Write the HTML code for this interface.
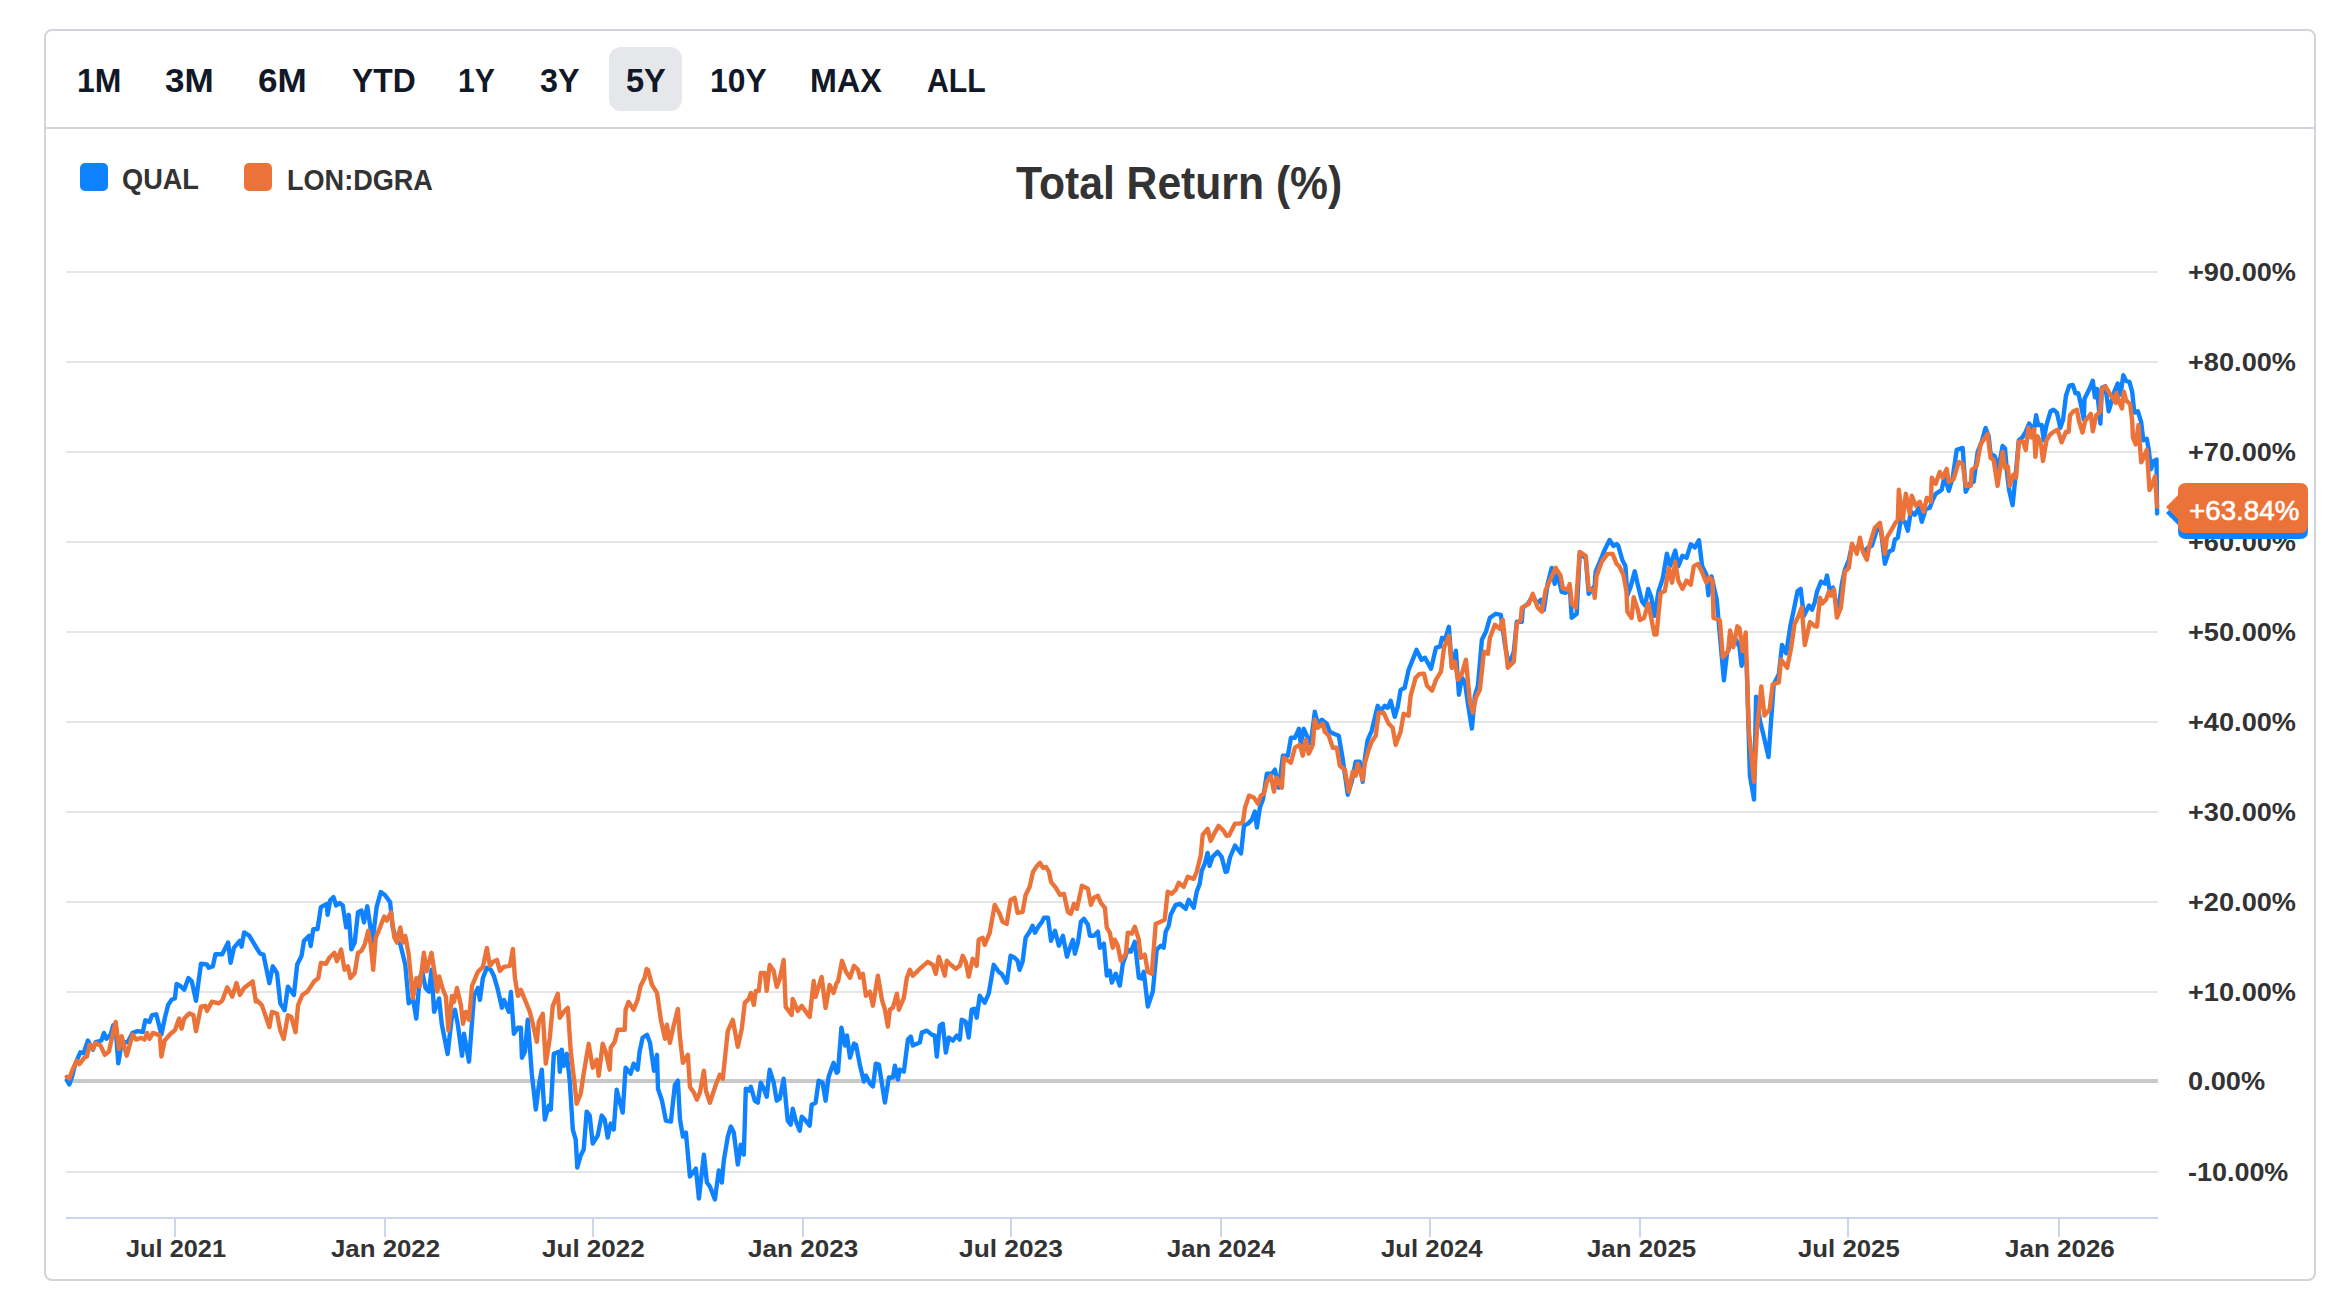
<!DOCTYPE html>
<html><head><meta charset="utf-8">
<style>
html,body{margin:0;padding:0;background:#fff;}
body{width:2350px;height:1302px;position:relative;overflow:hidden;font-family:"Liberation Sans",sans-serif;}
.box{position:absolute;left:44px;top:29px;width:2268px;height:1248px;border:2px solid #d1d5db;border-radius:8px;}
.sep{position:absolute;left:46px;top:127px;width:2268px;height:2px;background:#d1d5db;}
.t{position:absolute;white-space:nowrap;transform-origin:0 0;line-height:1;}
.btn{font-weight:bold;color:#111827;}
.sel{position:absolute;left:609px;top:47px;width:73px;height:64px;background:#e5e7eb;border-radius:12px;}
.leg{font-weight:bold;color:#333;}
.sq{position:absolute;top:163px;width:28px;height:28px;border-radius:5px;}
.title{font-weight:bold;color:#333;}
.yl{font-weight:bold;color:#333;}
.xl{font-weight:bold;color:#333;}
.cl{position:absolute;left:2178px;width:130px;height:50px;border-radius:8px;}
.ct{color:#fff;-webkit-text-stroke:0.6px #fff;}
svg{position:absolute;left:0;top:0;}
</style></head><body>
<div class="box"></div>
<div class="sep"></div>
<div class="sel"></div>
<div class="t btn" style="left:77.00px;top:62.96px;font-size:33.99px;transform:scale(0.9391,1)">1M</div>
<div class="t btn" style="left:165.20px;top:62.96px;font-size:33.99px;transform:scale(1.0324,1)">3M</div>
<div class="t btn" style="left:257.80px;top:62.96px;font-size:33.99px;transform:scale(1.0324,1)">6M</div>
<div class="t btn" style="left:351.50px;top:62.96px;font-size:33.99px;transform:scale(0.9368,1)">YTD</div>
<div class="t btn" style="left:457.90px;top:62.96px;font-size:33.99px;transform:scale(0.8878,1)">1Y</div>
<div class="t btn" style="left:540.20px;top:62.96px;font-size:33.99px;transform:scale(0.9506,1)">3Y</div>
<div class="t btn" style="left:625.50px;top:62.96px;font-size:33.99px;transform:scale(0.9583,1)">5Y</div>
<div class="t btn" style="left:709.50px;top:62.72px;font-size:33.99px;transform:scale(0.9378,1)">10Y</div>
<div class="t btn" style="left:810.30px;top:62.72px;font-size:33.99px;transform:scale(0.9496,1)">MAX</div>
<div class="t btn" style="left:926.60px;top:62.72px;font-size:33.99px;transform:scale(0.8892,1)">ALL</div>
<div class="sq" style="left:80px;background:#0f82ff"></div>
<div class="t leg" style="left:122.20px;top:163.86px;font-size:29.50px;transform:scale(0.9208,1)">QUAL</div>
<div class="t leg" style="left:286.50px;top:163.62px;font-size:30.40px;transform:scale(0.8912,1)">LON:DGRA</div>
<div class="sq" style="left:244px;background:#eb7339"></div>

<div class="t title" style="left:1016.40px;top:158.98px;font-size:47.03px;transform:scale(0.9073,1)">Total Return (%)</div>
<svg width="2350" height="1302" viewBox="0 0 2350 1302">
<g stroke="#e6e6e6" stroke-width="2">
<line x1="66" y1="272" x2="2158" y2="272"/>
<line x1="66" y1="362" x2="2158" y2="362"/>
<line x1="66" y1="452" x2="2158" y2="452"/>
<line x1="66" y1="542" x2="2158" y2="542"/>
<line x1="66" y1="632" x2="2158" y2="632"/>
<line x1="66" y1="722" x2="2158" y2="722"/>
<line x1="66" y1="812" x2="2158" y2="812"/>
<line x1="66" y1="902" x2="2158" y2="902"/>
<line x1="66" y1="992" x2="2158" y2="992"/>
<line x1="66" y1="1172" x2="2158" y2="1172"/>
</g>
<line x1="66" y1="1081" x2="2158" y2="1081" stroke="#c8c8c8" stroke-width="4"/>
<g stroke="#ccd6eb" stroke-width="2">
<line x1="66" y1="1218" x2="2158" y2="1218"/>
<line x1="175" y1="1218" x2="175" y2="1237"/>
<line x1="385" y1="1218" x2="385" y2="1237"/>
<line x1="593" y1="1218" x2="593" y2="1237"/>
<line x1="803" y1="1218" x2="803" y2="1237"/>
<line x1="1011" y1="1218" x2="1011" y2="1237"/>
<line x1="1221" y1="1218" x2="1221" y2="1237"/>
<line x1="1430" y1="1218" x2="1430" y2="1237"/>
<line x1="1640" y1="1218" x2="1640" y2="1237"/>
<line x1="1848" y1="1218" x2="1848" y2="1237"/>
<line x1="2059" y1="1218" x2="2059" y2="1237"/>
</g>
<g fill="none" stroke-width="4.4" stroke-linejoin="round" stroke-linecap="round"><path stroke="#0f82ff" d="M66.8 1080.2 L69.3 1084.4 L71.8 1077.6 L75.2 1064.1 L80.3 1052.3 L83.6 1053.1 L87.9 1040.5 L92.9 1049.8 L95.5 1042.2 L101.4 1040.5 L103.9 1032.9 L106.5 1038.8 L110.7 1034.6 L113.2 1025.3 L115.7 1028.6 L118.3 1063.3 L121.7 1042.2 L127.6 1042.2 L132.6 1032.9 L137.7 1031.2 L142.8 1032.0 L145.3 1020.2 L149.5 1021.9 L152.1 1015.1 L156.3 1014.3 L161.4 1034.6 L164.7 1018.5 L168.1 1005.0 L171.5 999.9 L174.9 998.2 L176.6 983.9 L179.9 985.6 L184.2 989.8 L188.4 978.0 L191.8 981.4 L196.0 1000.8 L201.0 963.6 L207.0 964.5 L208.6 967.8 L212.9 966.1 L215.4 954.3 L222.2 954.3 L228.1 942.5 L230.6 962.8 L234.0 947.6 L239.9 940.8 L241.6 946.7 L244.1 932.4 L249.2 935.7 L254.3 944.2 L260.1 953.6 L263.4 954.5 L269.4 983.2 L272.7 966.3 L277.0 973.0 L280.3 1003.4 L284.6 1010.2 L287.9 986.6 L293.9 995.0 L297.2 964.6 L301.5 956.1 L304.0 940.9 L309.1 935.9 L310.7 946.0 L313.3 929.1 L317.5 929.1 L320.9 907.2 L326.8 903.8 L327.6 914.8 L330.2 900.4 L333.5 897.0 L336.1 905.5 L339.5 902.9 L342.8 905.5 L346.2 927.4 L348.8 914.8 L351.3 949.4 L354.7 942.6 L358.0 912.2 L361.4 910.5 L364.0 922.4 L367.3 906.3 L370.7 929.1 L372.4 942.6 L376.6 907.2 L380.8 892.0 L385.1 895.3 L390.1 902.1 L392.7 927.4 L396.9 940.9 L400.3 944.3 L405.3 964.6 L408.7 1003.4 L412.9 998.4 L416.3 1018.6 L419.7 978.1 L422.2 971.4 L425.6 988.2 L429.0 991.6 L431.5 969.7 L434.1 1011.9 L439.1 998.4 L441.7 1023.7 L447.6 1054.1 L452.0 1015.8 L455.0 1009.8 L458.0 1025.8 L462.0 1055.7 L464.0 1033.8 L469.0 1061.7 L474.0 995.9 L477.9 987.9 L479.9 999.9 L482.9 977.9 L486.9 967.9 L490.9 969.9 L493.9 975.9 L497.9 989.9 L501.9 1007.8 L503.9 999.9 L508.9 1011.8 L510.9 991.9 L513.9 1033.8 L517.9 1027.8 L520.9 1027.8 L521.9 1057.7 L524.9 1051.8 L527.8 1019.8 L531.8 1073.7 L535.8 1109.6 L538.8 1085.7 L541.8 1069.7 L544.8 1119.6 L548.8 1105.6 L550.8 1109.6 L553.8 1053.8 L558.8 1051.8 L559.8 1071.7 L561.8 1049.8 L563.8 1065.7 L566.8 1053.8 L569.8 1081.7 L572.8 1129.6 L575.7 1139.6 L577.3 1167.5 L580.7 1155.5 L583.7 1149.6 L586.7 1111.6 L589.7 1115.6 L592.7 1143.6 L597.7 1135.6 L601.7 1115.6 L604.7 1119.6 L607.7 1137.6 L610.7 1123.6 L613.7 1129.6 L616.7 1089.7 L619.7 1101.7 L622.7 1112.6 L625.6 1067.7 L630.6 1073.7 L633.6 1063.7 L637.6 1069.7 L639.6 1051.8 L642.6 1037.8 L647.0 1034.8 L650.0 1042.8 L654.0 1070.7 L657.0 1054.8 L658.0 1088.7 L662.0 1100.7 L665.9 1120.6 L670.9 1121.6 L674.9 1084.7 L677.9 1080.7 L679.9 1118.7 L682.9 1136.6 L685.9 1132.6 L689.9 1176.5 L695.9 1168.6 L698.9 1198.5 L703.9 1154.6 L706.9 1182.5 L709.9 1186.5 L714.9 1199.5 L718.8 1170.5 L721.8 1182.5 L723.8 1160.6 L727.8 1136.6 L730.8 1126.6 L733.8 1132.6 L737.8 1164.6 L740.8 1144.6 L743.8 1154.6 L745.8 1088.7 L748.8 1090.7 L750.8 1086.7 L754.8 1100.7 L757.8 1102.7 L760.8 1082.7 L763.8 1088.7 L766.7 1096.7 L769.7 1069.8 L773.7 1082.7 L776.7 1100.7 L779.7 1098.7 L783.7 1078.7 L787.7 1120.6 L790.7 1124.6 L792.7 1108.7 L795.7 1120.6 L799.7 1130.6 L801.7 1116.7 L805.7 1120.6 L809.7 1125.6 L811.7 1104.7 L815.6 1102.7 L818.6 1080.7 L822.6 1082.7 L825.6 1100.7 L828.6 1076.7 L833.6 1062.8 L836.6 1072.7 L838.0 1071.6 L841.4 1027.6 L845.0 1045.6 L847.0 1035.6 L850.0 1057.6 L854.0 1043.6 L856.0 1044.6 L860.0 1065.6 L863.9 1081.5 L865.9 1075.5 L869.9 1083.5 L872.9 1086.5 L875.9 1063.6 L878.9 1064.6 L881.9 1083.5 L884.9 1102.5 L888.9 1077.5 L892.9 1077.5 L894.9 1065.6 L897.9 1079.5 L899.9 1069.6 L903.9 1071.6 L907.9 1039.6 L910.8 1036.6 L912.8 1045.6 L919.8 1042.6 L921.8 1032.6 L926.8 1030.6 L931.8 1034.6 L934.8 1035.6 L936.8 1056.6 L939.8 1025.6 L942.8 1023.7 L945.8 1052.6 L948.8 1037.6 L952.8 1040.6 L956.8 1035.6 L959.8 1039.6 L961.7 1019.7 L965.7 1021.7 L968.7 1037.6 L971.7 1009.7 L974.7 1008.7 L976.7 1017.7 L979.7 995.7 L984.7 1002.7 L988.7 993.7 L993.7 964.8 L998.7 971.8 L1001.7 973.8 L1006.7 982.7 L1010.6 955.8 L1014.6 957.8 L1017.6 960.8 L1019.6 969.8 L1022.6 961.8 L1025.6 937.8 L1029.6 931.8 L1032.6 925.8 L1035.0 932.7 L1039.0 925.7 L1042.0 921.8 L1044.0 917.8 L1048.0 917.8 L1051.0 940.7 L1055.0 930.7 L1058.9 945.7 L1062.9 935.7 L1066.9 956.7 L1069.9 947.7 L1072.9 939.7 L1074.9 953.7 L1077.9 942.7 L1080.9 921.8 L1083.9 918.8 L1087.9 924.8 L1089.9 935.7 L1093.9 935.7 L1097.9 931.7 L1099.9 947.7 L1103.9 943.7 L1106.8 975.6 L1109.8 970.7 L1111.8 982.6 L1115.8 973.7 L1119.8 985.6 L1122.8 963.7 L1127.8 949.7 L1130.8 951.7 L1134.8 941.7 L1138.8 977.6 L1141.8 978.6 L1143.8 971.7 L1147.8 1006.6 L1152.8 991.6 L1156.7 949.7 L1160.7 945.7 L1163.7 947.7 L1165.7 931.7 L1168.7 925.7 L1170.7 914.8 L1175.7 904.8 L1179.7 903.8 L1185.7 908.8 L1188.7 899.8 L1193.7 907.8 L1196.7 891.8 L1199.7 883.8 L1201.7 870.9 L1204.7 863.9 L1207.6 852.9 L1209.6 865.9 L1212.6 856.9 L1217.6 851.9 L1221.6 856.9 L1225.6 871.9 L1227.0 871.5 L1230.0 857.5 L1235.0 845.5 L1241.0 853.5 L1244.0 825.6 L1248.0 823.6 L1251.9 819.6 L1254.9 811.6 L1256.9 827.6 L1259.9 807.6 L1262.9 799.6 L1266.9 773.7 L1271.9 773.7 L1274.9 769.7 L1278.9 787.7 L1282.9 755.7 L1287.9 755.7 L1290.9 737.8 L1294.9 737.8 L1298.9 728.8 L1300.8 743.8 L1303.8 728.8 L1307.8 737.8 L1310.8 743.8 L1314.8 711.8 L1317.8 723.8 L1321.8 719.8 L1326.8 723.8 L1329.8 731.8 L1333.8 733.8 L1338.8 735.8 L1342.8 759.7 L1347.8 794.7 L1351.7 781.7 L1355.7 761.7 L1359.7 761.7 L1362.7 781.7 L1364.7 759.7 L1367.7 739.8 L1371.7 730.8 L1377.7 705.8 L1380.7 710.8 L1384.7 705.8 L1387.7 707.8 L1390.7 700.8 L1394.7 716.8 L1397.7 706.8 L1400.6 689.9 L1404.6 687.9 L1408.6 669.9 L1416.6 649.9 L1421.6 659.9 L1425.0 657.7 L1431.0 668.7 L1436.0 647.7 L1440.0 646.7 L1442.0 637.8 L1445.0 639.8 L1448.9 626.8 L1451.9 667.7 L1455.9 650.7 L1458.9 694.7 L1461.9 677.7 L1464.9 681.7 L1467.9 703.6 L1471.9 728.6 L1474.9 695.6 L1477.9 685.7 L1481.9 639.8 L1485.9 631.8 L1489.9 617.8 L1495.8 613.8 L1500.8 614.8 L1504.8 643.8 L1508.8 665.7 L1513.8 651.7 L1516.8 621.8 L1521.8 621.8 L1522.8 607.8 L1527.8 603.8 L1532.8 595.8 L1536.8 603.8 L1540.8 599.8 L1543.8 609.8 L1547.7 583.9 L1551.7 567.9 L1554.7 583.9 L1557.7 573.9 L1561.7 591.9 L1565.7 592.9 L1569.7 585.9 L1571.7 617.8 L1576.7 613.8 L1579.7 553.9 L1585.7 557.9 L1588.7 593.9 L1594.7 585.9 L1595.6 571.9 L1600.6 559.9 L1604.6 549.9 L1609.6 540.0 L1613.6 545.9 L1616.6 544.0 L1618.1 545.4 L1622.3 559.9 L1625.4 566.1 L1627.4 595.2 L1630.6 586.9 L1634.7 571.3 L1637.8 584.8 L1642.0 601.4 L1645.1 605.5 L1648.2 588.9 L1651.3 597.2 L1654.4 615.9 L1658.6 591.0 L1662.7 578.6 L1666.9 553.7 L1670.0 566.1 L1675.2 550.6 L1678.3 566.1 L1682.4 555.7 L1686.6 557.8 L1690.7 544.3 L1694.9 547.4 L1699.0 540.2 L1702.1 566.1 L1706.3 574.4 L1708.4 595.2 L1711.5 576.5 L1716.7 599.3 L1718.7 622.1 L1723.9 680.2 L1727.0 653.3 L1731.2 642.9 L1735.3 638.7 L1739.5 647.0 L1741.6 665.7 L1744.7 651.2 L1746.7 665.7 L1749.9 775.7 L1754.0 799.5 L1756.1 696.8 L1760.2 721.7 L1763.3 734.2 L1768.5 757.0 L1773.7 684.4 L1778.9 674.0 L1782.0 645.0 L1786.2 653.3 L1790.3 626.3 L1793.4 611.8 L1797.6 591.0 L1800.7 588.9 L1803.8 615.9 L1809.0 605.5 L1812.1 609.7 L1815.0 601.4 L1817.0 591.6 L1821.0 581.6 L1825.0 583.6 L1827.0 575.6 L1830.0 591.6 L1833.0 587.6 L1837.9 613.6 L1841.9 583.6 L1844.9 569.7 L1848.9 559.7 L1851.9 545.7 L1855.9 549.7 L1859.9 543.7 L1863.9 551.7 L1867.9 547.7 L1871.9 545.7 L1876.9 529.7 L1880.9 529.7 L1884.9 563.7 L1888.8 551.7 L1892.8 549.7 L1894.8 539.7 L1897.8 537.7 L1900.8 519.8 L1904.8 521.8 L1907.8 530.7 L1910.8 511.8 L1914.8 514.8 L1918.8 507.8 L1921.8 521.8 L1925.8 508.8 L1929.8 507.8 L1932.8 499.8 L1935.7 493.8 L1941.7 489.8 L1944.7 475.8 L1948.7 490.8 L1952.7 477.8 L1956.7 449.9 L1962.7 447.9 L1965.7 491.8 L1969.7 483.8 L1973.7 481.8 L1977.7 451.9 L1981.7 441.9 L1985.6 427.9 L1988.6 435.9 L1990.6 453.9 L1994.6 455.9 L1998.6 467.9 L2002.6 445.9 L2005.0 448.5 L2007.1 473.4 L2009.1 490.0 L2012.6 505.2 L2015.4 477.6 L2018.8 440.2 L2022.3 437.5 L2025.7 431.9 L2029.2 423.6 L2032.0 427.8 L2034.0 430.5 L2036.1 415.3 L2038.2 425.0 L2041.7 425.0 L2043.7 440.2 L2046.5 425.0 L2050.6 411.2 L2053.4 409.8 L2056.9 412.6 L2060.3 427.8 L2063.1 419.5 L2065.9 396.0 L2069.3 385.6 L2072.8 384.9 L2075.5 393.2 L2078.3 393.2 L2081.1 405.6 L2083.8 419.5 L2084.5 398.7 L2089.4 389.0 L2092.8 380.7 L2094.9 397.3 L2097.0 389.0 L2100.4 423.6 L2101.8 387.7 L2105.3 386.3 L2108.7 411.2 L2111.5 401.5 L2114.3 391.8 L2117.7 383.5 L2120.5 394.6 L2123.3 375.2 L2126.0 380.7 L2129.5 382.1 L2132.2 391.8 L2134.3 412.6 L2137.8 411.2 L2141.2 422.2 L2143.3 440.2 L2146.8 438.8 L2148.8 449.9 L2150.9 469.3 L2153.7 461.0 L2156.5 459.6 L2157.1 513.5"/><path stroke="#eb7339" d="M66.8 1076.8 L69.3 1078.5 L72.7 1069.2 L76.9 1060.7 L79.4 1064.1 L84.5 1057.4 L87.0 1056.5 L89.6 1044.7 L92.9 1048.9 L95.5 1043.0 L100.5 1045.5 L104.8 1054.8 L109.0 1051.5 L112.4 1035.4 L115.7 1021.9 L119.1 1048.9 L121.7 1036.2 L126.7 1055.7 L132.6 1034.6 L136.0 1039.6 L141.1 1037.9 L144.5 1039.6 L147.0 1032.9 L149.5 1038.8 L152.9 1032.9 L159.7 1035.4 L161.4 1056.5 L164.7 1040.5 L170.6 1033.7 L174.9 1030.3 L179.1 1018.5 L181.6 1028.6 L184.2 1018.5 L189.2 1013.4 L193.4 1015.1 L196.0 1031.2 L201.0 1006.7 L205.3 1005.8 L207.0 1010.9 L212.0 1001.6 L218.8 1003.3 L222.2 1000.8 L227.2 987.3 L232.3 996.6 L236.5 983.0 L239.9 994.9 L244.1 988.1 L252.6 981.4 L255.9 1001.6 L256.7 1000.1 L261.8 1005.1 L269.4 1027.1 L271.9 1011.9 L277.0 1013.6 L280.3 1030.5 L283.7 1038.9 L287.9 1015.3 L291.3 1017.0 L295.5 1032.2 L298.1 1005.1 L302.3 995.0 L307.4 991.6 L310.7 986.6 L314.1 981.5 L318.3 978.1 L320.9 962.9 L325.9 963.8 L329.3 957.8 L334.4 952.8 L336.9 961.2 L341.1 949.4 L344.5 969.7 L347.9 966.3 L350.4 978.1 L354.7 973.0 L358.0 952.8 L361.4 951.1 L364.8 944.3 L368.2 930.8 L370.7 944.3 L373.2 969.7 L375.8 937.6 L380.0 927.4 L384.2 916.5 L386.8 920.7 L391.0 912.2 L394.4 937.6 L396.9 942.6 L400.3 927.4 L402.8 942.6 L405.3 935.9 L408.7 954.5 L412.9 998.4 L416.3 978.1 L419.7 986.6 L423.9 952.8 L426.5 971.4 L431.5 952.8 L434.1 969.7 L437.4 991.6 L439.1 976.4 L442.5 988.2 L445.9 996.7 L448.4 1030.5 L452.0 995.9 L454.0 1001.9 L457.0 987.9 L461.0 1005.8 L463.0 1023.8 L466.0 1011.8 L469.0 1019.8 L472.0 985.9 L477.9 971.9 L482.9 966.9 L486.9 948.0 L489.9 965.9 L492.9 961.9 L496.9 959.9 L499.9 970.9 L503.9 966.9 L509.9 965.9 L512.9 949.0 L514.9 977.9 L517.9 995.9 L520.9 989.9 L525.8 1001.9 L529.8 1011.8 L532.8 1023.8 L536.8 1041.8 L538.8 1021.8 L542.8 1013.8 L545.8 1063.7 L549.8 1037.8 L552.8 1005.8 L557.8 993.9 L559.8 1017.8 L563.8 1011.8 L567.8 1007.8 L570.8 1051.8 L574.8 1085.7 L576.7 1103.7 L580.7 1093.7 L583.7 1073.7 L588.7 1043.8 L592.7 1067.7 L596.7 1059.7 L598.7 1075.7 L602.7 1043.8 L605.7 1051.8 L609.7 1069.7 L610.7 1047.8 L614.7 1041.8 L617.7 1029.8 L624.7 1029.8 L625.6 1009.8 L628.6 1001.9 L633.6 1009.8 L637.6 999.9 L640.6 985.9 L644.6 977.9 L646.6 968.9 L648.0 970.0 L652.0 984.9 L657.0 992.9 L661.0 1020.8 L665.0 1038.8 L666.9 1024.8 L669.9 1042.8 L673.9 1024.8 L677.9 1008.9 L679.9 1036.8 L682.9 1062.8 L687.9 1054.8 L689.9 1086.7 L693.9 1092.7 L696.9 1099.7 L699.9 1092.7 L703.9 1070.7 L705.9 1090.7 L709.9 1102.7 L715.8 1084.7 L719.8 1074.7 L722.8 1078.7 L727.8 1030.8 L732.8 1019.9 L737.8 1046.8 L741.8 1028.8 L744.8 1002.9 L748.8 998.9 L750.8 992.9 L753.8 1004.9 L755.8 990.9 L758.8 990.9 L760.8 972.9 L764.8 972.9 L766.7 990.9 L769.7 965.0 L773.7 970.9 L776.7 986.9 L779.7 978.9 L783.7 960.0 L785.7 1006.9 L791.7 1014.9 L792.7 998.9 L797.7 1010.9 L801.7 1005.9 L806.7 1012.9 L809.7 1016.9 L813.7 980.9 L815.6 996.9 L821.6 976.9 L825.6 1007.9 L829.6 984.9 L833.6 992.9 L836.6 982.9 L838.0 981.7 L842.0 960.8 L846.0 971.8 L850.0 977.7 L854.0 965.8 L858.0 969.8 L860.0 977.7 L862.9 973.8 L865.9 995.7 L869.9 991.7 L872.9 1005.7 L877.9 975.7 L881.9 999.7 L884.9 1009.7 L887.9 1026.6 L889.9 1009.7 L892.9 1007.7 L896.9 993.7 L898.9 1009.7 L903.9 997.7 L906.9 977.7 L909.9 969.8 L912.8 975.7 L916.8 971.8 L920.8 967.8 L927.8 961.8 L932.8 964.8 L935.8 973.8 L938.8 956.8 L941.8 965.8 L944.8 975.7 L946.8 960.8 L950.8 964.8 L955.8 968.8 L959.8 965.8 L962.7 955.8 L965.7 961.8 L968.7 976.7 L972.7 958.8 L976.7 965.8 L978.7 939.8 L982.7 937.8 L984.7 944.8 L989.7 932.8 L994.7 904.9 L999.7 913.9 L1002.7 921.9 L1006.7 923.9 L1010.6 899.9 L1014.6 897.9 L1017.6 912.9 L1022.6 911.9 L1025.6 894.9 L1029.6 886.9 L1033.0 871.9 L1037.0 865.9 L1040.0 862.9 L1043.0 867.9 L1046.0 866.9 L1049.0 871.9 L1051.0 881.8 L1055.9 887.8 L1059.9 894.8 L1063.9 893.8 L1067.9 911.8 L1070.9 913.8 L1073.9 903.8 L1076.9 908.8 L1081.9 885.8 L1087.9 888.8 L1090.9 904.8 L1093.9 897.8 L1097.9 895.8 L1100.9 902.8 L1104.9 907.8 L1106.8 927.7 L1109.8 932.7 L1112.8 947.7 L1114.8 939.7 L1117.8 945.7 L1120.8 960.7 L1125.8 953.7 L1127.8 932.7 L1131.8 933.7 L1134.8 926.7 L1138.8 939.7 L1140.8 957.7 L1144.8 954.7 L1147.8 971.7 L1151.8 973.7 L1155.7 923.8 L1160.7 921.8 L1164.7 919.8 L1167.7 891.8 L1171.7 893.8 L1175.7 889.8 L1178.7 882.8 L1183.7 886.8 L1187.7 876.8 L1193.7 878.8 L1196.7 871.9 L1200.7 855.9 L1202.7 834.9 L1207.6 828.9 L1210.6 840.9 L1213.6 834.9 L1218.6 825.9 L1223.6 830.9 L1226.6 835.9 L1229.0 835.6 L1235.0 823.6 L1240.0 823.6 L1243.0 821.6 L1245.0 807.6 L1249.0 795.6 L1253.9 797.6 L1257.9 803.6 L1260.9 795.6 L1263.9 793.7 L1266.9 781.7 L1270.9 775.7 L1273.9 791.7 L1276.9 777.7 L1281.9 787.7 L1283.9 757.7 L1290.9 762.7 L1294.9 747.7 L1299.9 744.8 L1302.8 755.7 L1305.8 739.8 L1308.8 753.7 L1312.8 744.8 L1314.8 719.8 L1317.8 727.8 L1322.8 723.8 L1324.8 731.8 L1328.8 735.8 L1332.8 747.7 L1336.8 747.7 L1339.8 765.7 L1344.8 769.7 L1348.8 791.7 L1352.7 771.7 L1355.7 775.7 L1357.7 763.7 L1362.7 779.7 L1364.7 763.7 L1368.7 749.7 L1371.7 741.8 L1375.7 735.8 L1378.7 712.8 L1383.7 712.8 L1388.7 723.8 L1392.7 727.8 L1395.7 744.8 L1400.6 731.8 L1403.6 713.8 L1408.6 715.8 L1410.6 695.8 L1415.6 677.9 L1419.6 673.9 L1424.0 673.7 L1427.0 685.7 L1432.0 690.7 L1436.0 679.7 L1441.0 671.7 L1444.0 647.7 L1448.9 635.8 L1451.9 667.7 L1454.9 661.7 L1457.9 679.7 L1461.9 673.7 L1465.9 659.7 L1469.9 701.6 L1472.9 712.6 L1475.9 697.6 L1479.9 689.7 L1483.9 651.7 L1487.9 653.7 L1489.9 637.8 L1494.9 624.8 L1499.8 628.8 L1502.8 619.8 L1507.8 667.7 L1513.8 661.7 L1516.8 623.8 L1520.8 619.8 L1521.8 607.8 L1528.8 603.8 L1532.8 593.9 L1537.8 607.8 L1541.8 611.8 L1545.7 589.9 L1555.7 567.9 L1560.7 575.9 L1562.7 587.9 L1567.7 589.9 L1569.7 583.9 L1571.7 603.8 L1575.7 607.8 L1579.7 551.9 L1585.7 555.9 L1588.7 589.9 L1593.7 589.9 L1594.7 597.8 L1596.6 575.9 L1601.6 561.9 L1607.6 553.9 L1612.6 553.9 L1616.6 563.9 L1619.1 566.1 L1623.3 574.4 L1626.4 591.0 L1627.4 611.8 L1631.6 618.0 L1633.7 597.2 L1637.8 609.7 L1639.9 620.1 L1644.0 618.0 L1648.2 603.5 L1651.3 618.0 L1654.4 634.6 L1656.5 634.6 L1660.6 593.1 L1664.8 591.0 L1668.9 568.2 L1672.1 582.7 L1675.2 562.0 L1678.3 580.6 L1682.4 588.9 L1686.6 580.6 L1690.7 584.8 L1693.8 566.1 L1698.0 564.0 L1702.1 572.3 L1706.3 582.7 L1709.4 577.5 L1712.5 580.6 L1713.5 618.0 L1719.8 620.1 L1722.9 657.4 L1728.1 651.2 L1730.1 630.4 L1733.3 647.0 L1737.4 626.3 L1739.5 628.4 L1742.6 651.2 L1745.7 632.5 L1748.8 730.0 L1754.0 781.9 L1757.1 727.9 L1761.3 686.5 L1764.4 715.5 L1769.6 709.3 L1772.7 684.4 L1778.9 682.3 L1781.0 659.5 L1787.2 667.8 L1791.3 647.0 L1794.5 624.2 L1797.6 618.0 L1801.7 607.6 L1804.8 645.0 L1810.0 622.1 L1815.0 626.3 L1817.0 626.5 L1820.0 597.6 L1822.0 603.6 L1826.0 599.6 L1829.0 591.6 L1831.0 595.6 L1834.0 589.6 L1836.9 617.6 L1840.9 607.6 L1844.9 571.7 L1848.9 567.7 L1851.9 543.7 L1856.9 553.7 L1859.9 537.7 L1862.9 551.7 L1866.9 559.7 L1869.9 543.7 L1874.9 527.7 L1879.9 522.8 L1884.9 553.7 L1886.8 537.7 L1892.8 527.7 L1894.8 523.8 L1897.8 519.8 L1898.8 489.8 L1902.8 519.8 L1905.8 493.8 L1909.8 513.8 L1911.8 495.8 L1915.8 505.8 L1919.8 501.8 L1923.8 511.8 L1926.8 497.8 L1930.8 501.8 L1931.8 477.8 L1935.7 483.8 L1939.7 471.9 L1942.7 477.8 L1946.7 468.9 L1948.7 481.8 L1953.7 478.8 L1958.7 461.9 L1962.7 463.9 L1965.7 485.8 L1970.7 485.8 L1971.7 469.9 L1976.7 465.9 L1980.7 443.9 L1987.6 433.9 L1990.6 457.9 L1993.6 459.9 L1997.6 485.8 L2002.6 451.9 L2005.0 467.9 L2007.8 466.5 L2009.8 485.9 L2013.3 474.8 L2016.1 477.6 L2018.8 441.6 L2023.0 441.6 L2025.7 449.9 L2028.5 427.8 L2031.3 437.5 L2034.0 429.2 L2035.4 456.8 L2037.5 436.1 L2041.0 444.4 L2043.0 461.0 L2046.5 440.2 L2050.0 434.7 L2053.4 431.9 L2057.6 429.8 L2061.7 442.3 L2065.9 431.9 L2068.6 431.9 L2070.0 415.3 L2073.5 411.2 L2076.9 409.8 L2079.0 420.9 L2082.5 432.6 L2085.2 420.9 L2090.8 413.9 L2092.8 431.2 L2096.3 415.3 L2100.4 411.2 L2101.8 389.0 L2105.3 386.3 L2108.7 391.8 L2112.2 397.3 L2115.7 402.9 L2116.3 393.2 L2119.1 401.5 L2121.9 408.4 L2123.9 391.8 L2126.0 400.1 L2130.2 404.3 L2132.2 420.9 L2132.9 437.5 L2135.7 444.4 L2138.5 425.0 L2141.2 462.4 L2143.3 458.2 L2146.8 449.9 L2149.5 490.0 L2152.3 484.5 L2155.1 476.2 L2157.1 506.6"/></g>
</svg>
<div class="t yl" style="left:2188.00px;top:260.36px;font-size:25.13px;transform:scale(1.0814,1)">+90.00%</div>
<div class="t yl" style="left:2188.00px;top:350.36px;font-size:25.13px;transform:scale(1.0814,1)">+80.00%</div>
<div class="t yl" style="left:2188.00px;top:440.36px;font-size:25.13px;transform:scale(1.0814,1)">+70.00%</div>
<div class="t yl" style="left:2188.00px;top:530.36px;font-size:25.13px;transform:scale(1.0814,1)">+60.00%</div>
<div class="t yl" style="left:2188.00px;top:620.36px;font-size:25.13px;transform:scale(1.0814,1)">+50.00%</div>
<div class="t yl" style="left:2188.00px;top:710.36px;font-size:25.13px;transform:scale(1.0814,1)">+40.00%</div>
<div class="t yl" style="left:2188.00px;top:800.36px;font-size:25.13px;transform:scale(1.0814,1)">+30.00%</div>
<div class="t yl" style="left:2188.00px;top:890.36px;font-size:25.13px;transform:scale(1.0814,1)">+20.00%</div>
<div class="t yl" style="left:2188.00px;top:980.36px;font-size:25.13px;transform:scale(1.0814,1)">+10.00%</div>
<div class="t yl" style="left:2188.00px;top:1069.36px;font-size:25.13px;transform:scale(1.0828,1)">0.00%</div>
<div class="t yl" style="left:2188.00px;top:1160.36px;font-size:25.13px;transform:scale(1.0718,1)">-10.00%</div>
<div class="t xl" style="left:125.60px;top:1236.68px;font-size:24.78px;transform:scale(1.0227,1)">Jul 2021</div>
<div class="t xl" style="left:331.10px;top:1236.68px;font-size:24.78px;transform:scale(1.0421,1)">Jan 2022</div>
<div class="t xl" style="left:542.30px;top:1236.68px;font-size:24.78px;transform:scale(1.0513,1)">Jul 2022</div>
<div class="t xl" style="left:748.25px;top:1236.68px;font-size:24.78px;transform:scale(1.0523,1)">Jan 2023</div>
<div class="t xl" style="left:959.20px;top:1236.68px;font-size:24.78px;transform:scale(1.0623,1)">Jul 2023</div>
<div class="t xl" style="left:1167.10px;top:1236.68px;font-size:24.78px;transform:scale(1.0356,1)">Jan 2024</div>
<div class="t xl" style="left:1380.50px;top:1236.68px;font-size:24.78px;transform:scale(1.0399,1)">Jul 2024</div>
<div class="t xl" style="left:1586.95px;top:1236.68px;font-size:24.78px;transform:scale(1.0436,1)">Jan 2025</div>
<div class="t xl" style="left:1798.40px;top:1236.68px;font-size:24.78px;transform:scale(1.0405,1)">Jul 2025</div>
<div class="t xl" style="left:2004.75px;top:1236.68px;font-size:24.78px;transform:scale(1.0494,1)">Jan 2026</div>
<svg width="2350" height="1302" viewBox="0 0 2350 1302">
<path fill="#0f82ff" d="M2166 513 L2178 501 L2178 497 Q2178 489 2186 489 L2300 489 Q2308 489 2308 497 L2308 531 Q2308 539 2300 539 L2186 539 Q2178 539 2178 531 L2178 525 Z"/>
<path fill="#eb7339" d="M2166 507 L2178 495 L2178 491 Q2178 483 2186 483 L2300 483 Q2308 483 2308 491 L2308 525 Q2308 533 2300 533 L2186 533 Q2178 533 2178 525 L2178 519 Z"/>
</svg>
<div class="t ct" style="left:2189.10px;top:496.50px;font-size:27.50px;transform:scale(1.0100,1)">+63.84%</div>
</body></html>
